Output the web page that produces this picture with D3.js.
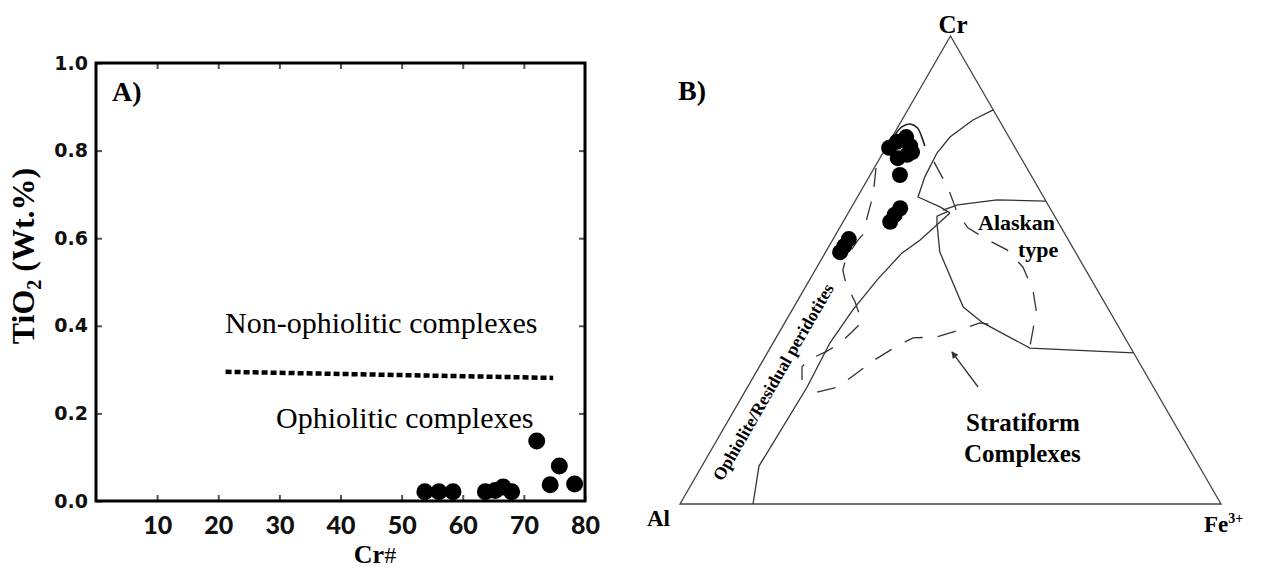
<!DOCTYPE html>
<html lang="en">
<head>
<meta charset="utf-8" />
<title>Cr# vs TiO2 and Cr-Al-Fe3+ ternary</title>
<script src="https://d3js.org/d3.v7.min.js"></script>
<style>
  body { margin: 0; background: #fff; }
  .serif { font-family: "Liberation Serif", "DejaVu Serif", serif; }
  .tick line { stroke: #555; stroke-width: 2; }
  .xt text { font-family: Lato, "DejaVu Sans", sans-serif; font-weight: 900; font-size: 25px; fill: #111; }
  .yt text { font-family: "DejaVu Sans", sans-serif; font-weight: bold; font-size: 19px; fill: #111; }
</style>
</head>
<body>
<div id="chart"></div>
<script>
// ---- panel A: Cr# vs TiO2 (wt.%) ----
const crNum = [53.8, 56.1, 58.4, 63.7, 65.3, 66.6, 68.0, 72.1, 75.8, 74.3, 78.3];
const tio2  = [0.021, 0.021, 0.021, 0.021, 0.024, 0.032, 0.021, 0.137, 0.080, 0.037, 0.039];
const xTicks = [10, 20, 30, 40, 50, 60, 70, 80];
const yTicks = [0, 0.2, 0.4, 0.6, 0.8, 1.0];
// dotted divide between the two fields
const divideCr = [21.2, 74.8];
const divideTi = [0.295, 0.281];

// ---- panel B: ternary Cr - Al - Fe3+, points as [Cr, Fe3+] in %, Al = rest ----
const sampleCr = [76.1, 77.4, 78.4, 76.5, 74.6, 73.9, 75.2, 70.3, 63.2, 61.8, 60.3, 56.6, 55.1, 53.8];
const sampleFe = [0.6, 1.4, 2.6, 4.3, 4.7, 3.3, 5.3, 5.5, 9.1, 8.8, 8.7, 2.9, 2.8, 2.7];

const corners = [[0, 0], [100, 0], [0, 100]];  // Al, Cr, Fe3+
const fieldUpper = [[84.2, 15.8], [82.05, 13.13], [78.4, 10.7], [75.0, 10.0], [69.9, 10.3],
  [65.6, 11.2], [63.5, 16.3], [62.2, 18.8]];
const alaskanTop = [[62.8, 17.2], [63.9, 19.4], [65.0, 26.1], [64.7, 35.3]];
const alaskanLow = [[62.4, 18.15], [61.5, 16.75], [60.0, 17.5], [53.85, 21.1], [42.1, 31.3],
  [38.7, 36.65], [33.3, 48.05], [32.3, 67.7]];
const ophioliteEdge = [[62.2, 18.8], [56.4, 16.2], [53.6, 14.2], [47.9, 12.5], [41.5, 11.2],
  [34.4, 10.5], [25.0, 11.0], [8.1, 10.55], [0, 13.5]];
const capArc = [[78.85, 0.3], [80.6, 0.7], [81.2, 1.9], [80.3, 3.8], [78.4, 5.5], [76.5, 7.0]];
const ophioliteDash = [[71.8, 0.33], [66.0, 2.7], [61.1, 4.0], [57.9, 5.1], [56.4, 4.7], [52.6, 4.4],
  [50.0, 5.1], [47.9, 6.55], [45.3, 8.8], [43.2, 10.75], [38.9, 14.2], [36.75, 13.4], [34.4, 12.4],
  [32.5, 10.7], [30.8, 8.3], [29.3, 7.9], [26.5, 9.3]];
const alaskanDash = [[73.1, 10.4], [67.5, 15.8], [62.4, 20.0], [59.0, 23.7], [56.4, 28.7], [54.3, 33.3],
  [50.6, 38.1], [45.7, 42.4], [41.45, 45.1], [37.2, 46.65], [33.8, 47.8]];
const stratiformDash = [[23.9, 13.4], [25.0, 16.7], [28.0, 18.7], [30.8, 20.6], [33.5, 23.0],
  [35.5, 25.3], [35.7, 29.65], [37.0, 32.7], [38.7, 36.1], [38.0, 40.15]];
const arrowPts = [[25.0, 42.6], [32.5, 34.0]];

const svg = d3.select("#chart").append("svg")
  .attr("width", 1263)
  .attr("height", 571);

// ================= panel A =================
const a = {left: 96, right: 585, top: 63, bottom: 501};
const x = d3.scaleLinear().domain([0, 80]).range([a.left, a.right]);
const y = d3.scaleLinear().domain([0, 1]).range([a.bottom, a.top]);
const gA = svg.append("g");

gA.append("g").attr("class", "xt")
  .attr("transform", `translate(0,${a.bottom})`)
  .call(d3.axisBottom(x).tickValues(xTicks).tickSize(-6).tickPadding(15))
  .call(g => g.select(".domain").remove());
gA.append("g")
  .attr("transform", `translate(0,${a.top})`)
  .call(d3.axisTop(x).tickValues(xTicks.slice(0, -1)).tickSize(-6).tickFormat(""))
  .call(g => g.select(".domain").remove());
gA.append("g").attr("class", "yt")
  .attr("transform", `translate(${a.left},0)`)
  .call(d3.axisLeft(y).tickValues(yTicks).tickSize(-6).tickPadding(8).tickFormat(d3.format(".1f")))
  .call(g => g.select(".domain").remove());
gA.append("g")
  .attr("transform", `translate(${a.right},0)`)
  .call(d3.axisRight(y).tickValues(yTicks.slice(1, -1)).tickSize(-6).tickFormat(""))
  .call(g => g.select(".domain").remove());

gA.append("rect")
  .attr("x", a.left).attr("y", a.top)
  .attr("width", a.right - a.left).attr("height", a.bottom - a.top)
  .attr("fill", "none").attr("stroke", "#000").attr("stroke-width", 3);

gA.append("line")
  .attr("x1", x(divideCr[0])).attr("y1", y(divideTi[0]))
  .attr("x2", x(divideCr[1])).attr("y2", y(divideTi[1]))
  .attr("stroke", "#000").attr("stroke-width", 4.5)
  .attr("stroke-dasharray", "6,3");

gA.append("g")
  .selectAll("circle")
  .data(crNum)
  .join("circle")
    .attr("cx", d => x(d))
    .attr("cy", (d, i) => y(tio2[i]))
    .attr("r", 8.5)
    .attr("fill", "#000");

gA.append("text").attr("class", "serif")
  .attr("x", 112).attr("y", 101)
  .style("font-size", "28px").style("font-weight", "bold")
  .text("A)");
gA.append("text").attr("class", "serif")
  .attr("x", 225).attr("y", 333)
  .style("font-size", "30px")
  .text("Non-ophiolitic complexes");
gA.append("text").attr("class", "serif")
  .attr("x", 276).attr("y", 428)
  .style("font-size", "30px")
  .text("Ophiolitic complexes");

// y label
const yl = gA.append("text").attr("class", "serif")
  .attr("transform", "translate(34,256) rotate(-90)")
  .attr("text-anchor", "middle")
  .style("font-size", "32px").style("font-weight", "bold");
yl.append("tspan").text("TiO");
yl.append("tspan").attr("dy", 7).style("font-size", "20px").text("2");
yl.append("tspan").attr("dy", -7).text(" (Wt.%)");

// x label
const xl = gA.append("text").attr("class", "serif")
  .attr("x", 375).attr("y", 563)
  .attr("text-anchor", "middle")
  .style("font-size", "26px").style("font-weight", "bold");
xl.append("tspan").text("Cr");
xl.append("tspan").style("font-weight", "normal").style("font-size", "24px").text("#");

// ================= panel B =================
const tx = d3.scaleLinear().domain([0, 100]).range([680, 1221]);
const ty = d3.scaleLinear().domain([0, 100]).range([504, 36]);
const proj = d => [tx(d[1] + d[0] / 2), ty(d[0])];
const path = d3.line().x(d => proj(d)[0]).y(d => proj(d)[1]);
const gB = svg.append("g");

gB.append("path")
  .attr("d", path(corners) + "Z")
  .attr("fill", "none").attr("stroke", "#444").attr("stroke-width", 1.3);

[fieldUpper, alaskanTop, alaskanLow, ophioliteEdge].forEach(line => {
  gB.append("path")
    .attr("d", path(line))
    .attr("fill", "none").attr("stroke", "#333").attr("stroke-width", 1.3);
});
gB.append("path")
  .attr("d", d3.line().curve(d3.curveCatmullRom).x(d => proj(d)[0]).y(d => proj(d)[1])(capArc))
  .attr("fill", "none").attr("stroke", "#222").attr("stroke-width", 1.6);

[ophioliteDash, alaskanDash, stratiformDash].forEach(line => {
  gB.append("path")
    .attr("d", path(line))
    .attr("fill", "none").attr("stroke", "#333").attr("stroke-width", 1.3)
    .attr("stroke-dasharray", "19,15");
});

svg.append("defs").append("marker")
  .attr("id", "head")
  .attr("viewBox", "0 0 10 10")
  .attr("refX", 9).attr("refY", 5)
  .attr("markerWidth", 10).attr("markerHeight", 7)
  .attr("markerUnits", "userSpaceOnUse")
  .attr("orient", "auto")
  .append("path").attr("d", "M0,0 L10,5 L0,10 Z").attr("fill", "#333");
gB.append("path")
  .attr("d", path(arrowPts))
  .attr("stroke", "#333").attr("stroke-width", 1.3)
  .attr("marker-end", "url(#head)");

gB.append("g")
  .selectAll("circle")
  .data(sampleCr)
  .join("circle")
    .attr("cx", (d, i) => proj([d, sampleFe[i]])[0])
    .attr("cy", (d, i) => proj([d, sampleFe[i]])[1])
    .attr("r", 8)
    .attr("fill", "#000");

function label(txt, px, py, size, anchor) {
  return gB.append("text").attr("class", "serif")
    .attr("x", px).attr("y", py)
    .attr("text-anchor", anchor || "start")
    .style("font-size", size + "px").style("font-weight", "bold")
    .text(txt);
}
label("B)", 678, 100, 28);
label("Cr", 953, 33, 25, "middle");
label("Al", 647, 526, 23);
const fe = label("Fe", 1204, 532, 23);
fe.append("tspan").attr("dy", -9).style("font-size", "14px").text("3+");
label("Alaskan", 978, 230, 22);
label("type", 1018, 257, 22);
label("Stratiform", 966, 431, 25);
label("Complexes", 964, 462, 25);

gB.append("text").attr("class", "serif")
  .attr("transform", "translate(773,382) rotate(-60)")
  .attr("text-anchor", "middle")
  .attr("dy", "0.35em")
  .style("font-size", "17.5px").style("font-weight", "bold")
  .text("Ophiolite/Residual peridotites");
</script>
</body>
</html>
